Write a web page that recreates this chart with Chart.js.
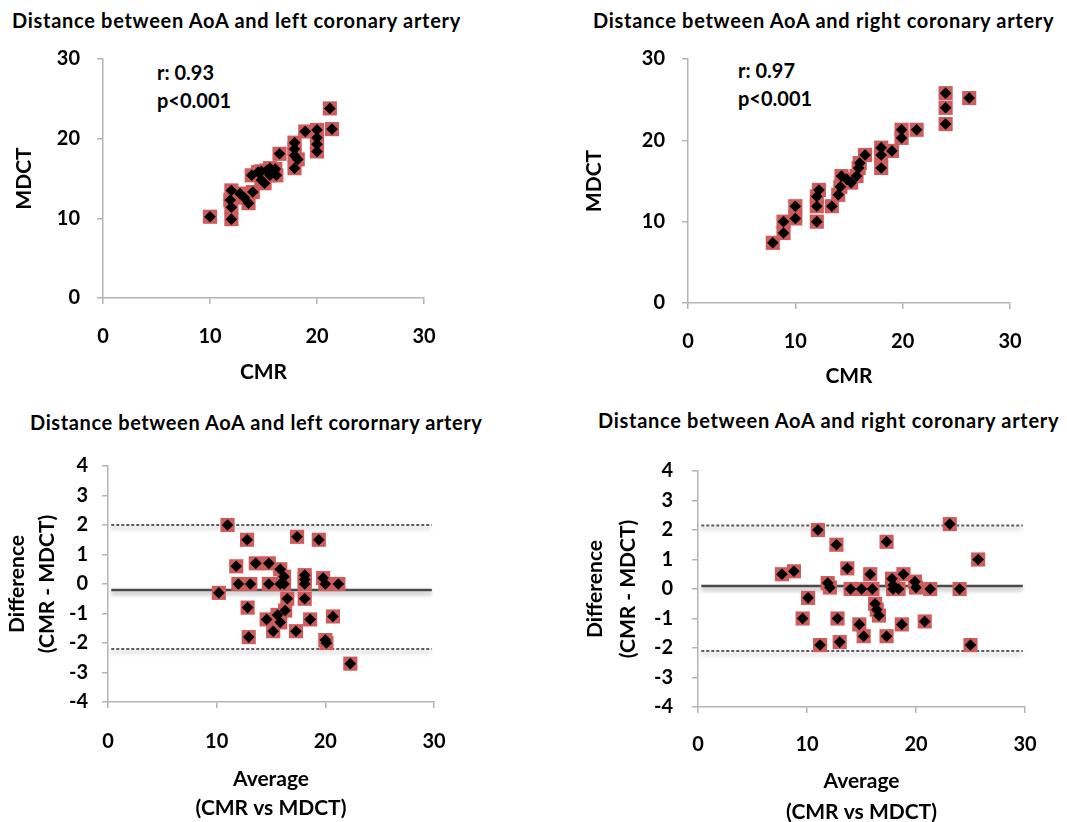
<!DOCTYPE html>
<html>
<head>
<meta charset="utf-8">
<script src="https://cdn.jsdelivr.net/npm/chart.js@4.4.1/dist/chart.umd.min.js"></script>
<style>
html, body { margin: 0; padding: 0; background: #fff; overflow: hidden; }
body { width: 1067px; height: 822px; position: relative; font-family: Lato, sans-serif; font-weight: 700; color: #000; }
canvas { position: absolute; }
.t { position: absolute; font-size: 20px; line-height: 24px; letter-spacing: 0.7px; white-space: nowrap; }
.n { position: absolute; font-size: 20px; line-height: 24px; white-space: nowrap; }
</style>
</head>
<body>
<div class="t" style="left:12px;top:8px">Distance between AoA and left coronary artery</div>
<div class="t" style="left:593px;top:8px">Distance between AoA and right coronary artery</div>
<div class="t" style="left:30px;top:410px;letter-spacing:0.6px">Distance between AoA and left corornary artery</div>
<div class="t" style="left:598px;top:408px">Distance between AoA and right coronary artery</div>
<div class="n" style="left:157px;top:60px">r: 0.93</div>
<div class="n" style="left:157px;top:88px">p&lt;0.001</div>
<div class="n" style="left:738px;top:58px">r: 0.97</div>
<div class="n" style="left:738px;top:86px">p&lt;0.001</div>

<canvas id="c1" width="480" height="370" style="left:0px;top:30px"></canvas>
<canvas id="c2" width="507" height="375" style="left:560px;top:30px"></canvas>
<canvas id="c3" width="490" height="400" style="left:0px;top:440px"></canvas>
<canvas id="c4" width="507" height="400" style="left:560px;top:440px"></canvas>

<script>
// left coronary artery distance, mm
const leftCmr  = [10.0, 12.0, 12.0, 11.9, 12.0, 12.8, 13.6, 14.0, 13.9, 14.5, 14.8, 15.3, 15.6, 16.1, 16.2, 15.1, 16.5, 17.9, 17.9, 17.9, 17.9, 18.9, 20.0, 20.0, 20.0, 20.0, 21.2, 21.4, 13.2, 14.8, 15.6, 16.0, 18.2];
const leftMdct = [10.2, 9.9, 11.4, 12.3, 13.5, 13.1, 11.9, 13.3, 15.4, 15.8, 14.8, 16.0, 15.4, 16.2, 15.4, 14.4, 18.1, 19.5, 18.7, 17.9, 16.3, 20.9, 21.1, 20.1, 19.3, 18.4, 23.8, 21.2, 12.6, 15.9, 16.3, 16.0, 17.4];

// right coronary artery distance, mm
const rightCmr  = [7.9, 8.9, 8.9, 10.0, 10.0, 12.0, 12.0, 12.0, 12.2, 13.4, 14.0, 14.2, 14.3, 14.8, 15.2, 15.7, 15.9, 16.0, 16.5, 18.0, 18.0, 18.0, 19.0, 19.9, 19.9, 21.3, 24.0, 24.0, 24.0, 26.2];
const rightMdct = [7.4, 8.6, 10.0, 10.4, 11.9, 10.0, 11.9, 13.1, 13.9, 11.9, 13.3, 14.3, 15.6, 15.2, 14.8, 15.6, 16.6, 17.2, 18.2, 16.6, 18.2, 19.1, 18.7, 20.3, 21.3, 21.3, 22.0, 24.0, 25.8, 25.2];

// Bland-Altman, left
const leftAvg  = [10.2, 11.0, 11.8, 12.0, 12.8, 13.1, 12.85, 12.95, 13.6, 14.8, 14.8, 14.6, 15.2, 15.6, 15.85, 15.85, 15.85, 16.2, 16.2, 16.3, 16.5, 17.3, 17.4, 18.1, 18.1, 18.1, 18.1, 18.6, 19.4, 19.8, 20.0, 20.0, 20.1, 20.7, 21.2, 22.3];
const leftDiff = [-0.3, 2.0, 0.6, 0.0, 1.5, 0.0, -0.8, -1.8, 0.7, 0.7, 0.0, -1.2, -1.6, -1.05, 0.5, 0.0, -1.3, 0.25, 0.0, -0.9, -0.5, -1.6, 1.6, 0.3, 0.15, 0.0, -0.5, -1.2, 1.5, 0.2, 0.0, -1.9, -2.0, -1.1, 0.0, -2.7];
const leftBias = -0.2, leftUpper = 2.0, leftLower = -2.2;

// Bland-Altman, right
const rightAvg  = [7.7, 8.8, 9.6, 10.1, 11.0, 11.2, 11.9, 12.1, 12.7, 12.8, 13.0, 13.7, 14.0, 14.8, 15.0, 15.2, 15.8, 16.0, 16.25, 16.4, 16.6, 17.3, 17.3, 17.8, 17.9, 17.9, 18.4, 18.7, 18.85, 19.9, 20.0, 20.8, 21.3, 23.1, 24.0, 25.0, 25.7];
const rightDiff = [0.5, 0.6, -1.0, -0.3, 2.0, -1.9, 0.2, 0.05, 1.5, -1.0, -1.8, 0.7, 0.0, -1.2, 0.0, -1.6, 0.5, 0.0, -0.5, -0.7, -0.9, 1.6, -1.6, 0.35, 0.13, 0.0, 0.0, -1.2, 0.5, 0.25, 0.05, -1.1, 0.0, 2.2, 0.0, -1.9, 1.0];
const rightBias = 0.1, rightUpper = 2.15, rightLower = -2.1;

const limitX = [0.3, 29.8];

const axisGray = '#b4b4b4';
Chart.defaults.font.family = 'Lato';
Chart.defaults.font.weight = 'bold';
Chart.defaults.color = '#000';

// soft shadow under the bias / limit lines
const lineHaze = {
  id: 'lineHaze',
  beforeDatasetDraw(chart, args) {
    if (!chart.data.datasets[args.index].haze) return;
    const ctx = chart.ctx;
    ctx.save();
    ctx.shadowColor = 'rgba(0,0,0,0.35)';
    ctx.shadowBlur = 4;
    ctx.shadowOffsetY = 3;
  },
  afterDatasetDraw(chart, args) {
    if (!chart.data.datasets[args.index].haze) return;
    chart.ctx.restore();
  }
};

function markers(xs, ys) {
  const pts = xs.map((x, i) => ({ x, y: ys[i] }));
  return [
    { data: pts, pointStyle: 'rectRot', pointRadius: 5.8, backgroundColor: '#000', borderWidth: 0 },
    { data: pts, pointStyle: 'rect', pointRadius: 10, backgroundColor: '#cf5c5c', borderWidth: 0 }
  ];
}

function limit(v, dashed) {
  return {
    data: limitX.map(x => ({ x, y: v })), showLine: true, pointRadius: 0, haze: true,
    borderColor: dashed ? '#5e5e5e' : '#4a4a4a', borderWidth: dashed ? 2 : 2.5, borderDash: dashed ? [3, 2] : []
  };
}

function axis(o, isX) {
  return {
    type: 'linear', min: o.min, max: o.max,
    ticks: { stepSize: o.step, padding: o.tickPad, font: { size: 20 }, color: '#000' },
    grid: { display: true, drawOnChartArea: false, drawTicks: true, tickLength: 6, color: axisGray, lineWidth: 1.5 },
    border: { display: true, color: axisGray, width: 1.5 },
    title: {
      display: true, text: o.title, color: '#000',
      font: { size: 21, lineHeight: o.lh },
      padding: isX ? { top: 0, bottom: o.tPad } : { top: o.tPad, bottom: 0 }
    },
    afterFit: s => { if (isX) s.height = o.size; else s.width = o.size; }
  };
}

function panel(id, box, area, datasets, xo, yo) {
  const el = document.getElementById(id);
  return new Chart(el, {
    type: 'scatter',
    data: { datasets },
    plugins: [lineHaze],
    options: {
      responsive: false, animation: false, events: [],
      layout: { padding: {
        left: 0,
        top: area.T - box.top,
        right: box.left + box.w - area.R,
        bottom: box.top + box.h - area.B - xo.size
      } },
      plugins: { legend: { display: false }, tooltip: { enabled: false } },
      scales: { x: axis(xo, true), y: axis(Object.assign({ size: area.L - box.left }, yo), false) }
    }
  });
}

panel('c1', { left: 0, top: 30, w: 480, h: 370 }, { L: 103, T: 55, R: 424, B: 298 },
  markers(leftCmr, leftMdct),
  { min: 0, max: 30, step: 10, title: 'CMR', lh: 1.2, tPad: 3, tickPad: 21, size: 90 },
  { min: 0, max: 30, step: 10, title: 'MDCT', lh: 1.2, tPad: 12, tickPad: 17 });

panel('c2', { left: 560, top: 30, w: 507, h: 375 }, { L: 688, T: 59, R: 1010, B: 303 },
  markers(rightCmr, rightMdct),
  { min: 0, max: 30, step: 10, title: 'CMR', lh: 1.2, tPad: 4, tickPad: 21, size: 90 },
  { min: 0, max: 30, step: 10, title: 'MDCT', lh: 1.2, tPad: 22, tickPad: 17 });

panel('c3', { left: 0, top: 440, w: 490, h: 400 }, { L: 108, T: 459, R: 434, B: 702 },
  markers(leftAvg, leftDiff).concat([limit(leftBias, false), limit(leftUpper, true), limit(leftLower, true)]),
  { min: 0, max: 30, step: 10, title: ['Average', '(CMR vs MDCT)'], lh: 1.35, tPad: 2, tickPad: 22, size: 122 },
  { min: -4, max: 4, step: 1, title: ['Difference', '(CMR - MDCT)'], lh: 1.45, tPad: 2, tickPad: 14 });

panel('c4', { left: 560, top: 440, w: 507, h: 400 }, { L: 698, T: 464, R: 1025, B: 707 },
  markers(rightAvg, rightDiff).concat([limit(rightBias, false), limit(rightUpper, true), limit(rightLower, true)]),
  { min: 0, max: 30, step: 10, title: ['Average', '(CMR vs MDCT)'], lh: 1.45, tPad: 5, tickPad: 20, size: 125 },
  { min: -4, max: 4, step: 1, title: ['Difference', '(CMR - MDCT)'], lh: 1.55, tPad: 19, tickPad: 19 });
</script>
</body>
</html>
